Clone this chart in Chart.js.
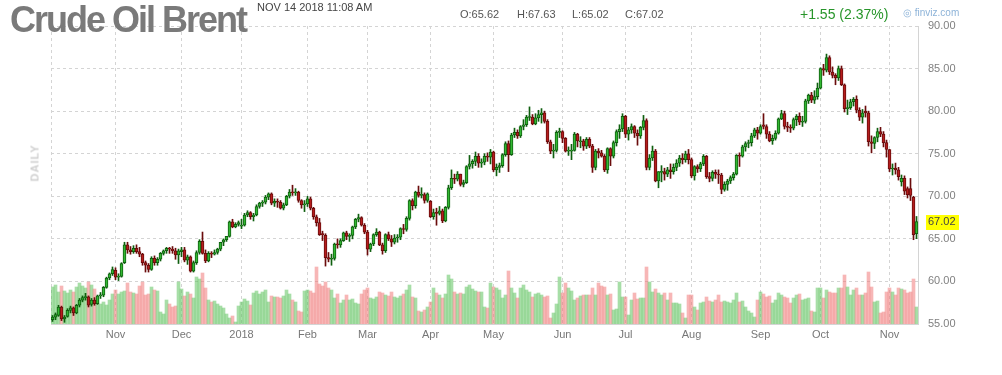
<!DOCTYPE html>
<html>
<head>
<meta charset="utf-8">
<script src="https://cdn.jsdelivr.net/npm/chart.js@4.4.0/dist/chart.umd.min.js"></script>
<style>
  body { margin: 0; background: #fff; font-family: Arial, "Liberation Sans", sans-serif; }
  #wrap { position: relative; width: 1002px; height: 375px; overflow: hidden; }
  canvas { position: absolute; left: 0; top: 0; }
  .txt { position: absolute; white-space: nowrap; }
  #titel { left: 10px; top: 2px; font-size: 36px; line-height: 36px; font-weight: bold; color: #7a7a7a; letter-spacing: -2px; }
  #dato { left: 257px; top: 2px; font-size: 11px; line-height: 11px; color: #444; }
  .ohlc { top: 9px; font-size: 11px; line-height: 11px; color: #555; }
  #aendring { left: 800px; top: 7px; font-size: 14px; line-height: 14px; color: #27952a; }
  #kilde { left: 903px; top: 8px; font-size: 10px; line-height: 10px; color: #8db3d8; }
  #daily { left: 17px; top: 158px; width: 36px; text-align: center; font-size: 11px; line-height: 11px; font-weight: bold; color: #cfcfcf; letter-spacing: 1px; transform: rotate(-90deg); }
</style>
</head>
<body>
<div id="wrap">
  <canvas id="brentGraf" width="1002" height="375"></canvas>
  <div class="txt" id="titel">Crude Oil Brent</div>
  <div class="txt" id="dato">NOV 14 2018 11:08 AM</div>
  <div class="txt ohlc" style="left:460px">O:65.62</div>
  <div class="txt ohlc" style="left:517px">H:67.63</div>
  <div class="txt ohlc" style="left:572px">L:65.02</div>
  <div class="txt ohlc" style="left:625px">C:67.02</div>
  <div class="txt" id="aendring">+1.55 (2.37%)</div>
  <div class="txt" id="kilde">&#9678; finviz.com</div>
  <div class="txt" id="daily">DAILY</div>
</div>
<script>
// Daglige candles, Brent, 3. okt 2017 - 14. nov 2018
var opens = [
  55.5,55.8,56.0,57.0,55.6,55.9,56.6,56.9,56.3,57.2,57.8,58.1,58.2,57.3,57.8,57.4,58.3,58.4,59.3,60.4,60.9,
  61.3,60.5,60.6,62.2,64.3,63.7,63.5,63.9,63.5,63.2,62.2,61.9,61.4,62.7,62.2,62.6,63.3,63.6,63.9,63.8,63.6,63.1,
  63.5,63.7,62.5,62.9,61.2,62.2,63.4,64.7,63.3,62.4,63.3,63.2,63.4,63.8,64.6,64.9,65.3,67.0,66.4,66.7,
  66.5,66.6,67.8,68.1,67.6,67.8,68.8,69.2,69.3,69.9,70.3,69.2,69.4,69.3,68.6,69.0,70.0,70.5,70.4,70.5,69.5,69.0,
  69.1,69.7,68.6,67.6,66.9,65.6,65.4,62.8,62.6,62.7,64.4,64.3,64.8,65.7,65.3,65.4,66.4,67.3,67.5,66.6,
  65.8,63.8,64.4,65.5,65.8,64.3,63.6,65.5,65.0,64.6,65.1,65.2,66.2,66.1,67.4,69.5,68.9,70.5,70.1,70.2,69.5,
  69.4,67.6,68.1,68.0,68.3,67.1,68.7,71.0,72.1,72.0,72.6,71.4,71.6,73.5,73.8,74.1,74.7,73.9,74.0,74.7,74.6,
  75.2,73.1,73.4,73.6,74.9,76.2,74.9,77.2,77.5,77.1,78.2,78.4,79.25,79.3,78.5,79.2,79.6,79.8,78.8,76.4,75.3,75.4,77.5,
  77.6,76.8,75.3,75.3,75.4,77.3,76.4,76.5,75.9,76.7,75.9,73.4,75.3,75.1,74.7,73.1,75.6,74.7,76.3,77.6,77.9,
  79.4,77.3,77.8,78.2,77.4,77.1,78.1,78.9,73.4,74.5,75.3,71.8,72.8,72.9,72.6,73.1,72.9,73.4,73.9,74.5,74.3,75.0,
  74.3,72.4,73.5,73.2,73.8,74.7,72.3,72.1,72.8,72.6,72.5,70.8,71.4,71.8,72.2,72.6,74.8,74.7,75.8,76.2,76.3,77.1,77.8,
  77.4,78.4,78.2,77.3,76.5,76.8,77.4,79.1,79.7,78.2,78.1,78.0,79.0,79.4,78.7,78.8,81.2,81.9,81.3,81.7,
  82.7,85.0,84.8,86.3,84.6,84.2,83.9,85.0,83.1,80.3,80.4,81.1,81.4,80.1,79.3,80.0,79.8,76.4,76.2,76.9,77.6,77.3,76.3,
  75.5,73.2,73.3,73.1,71.7,72.1,70.9,70.9,69.9,65.62
];
var highs = [
  56.0,56.3,57.2,57.1,56.0,56.8,57.1,57.0,57.3,58.0,58.3,58.6,58.3,58.0,58.1,58.4,58.7,59.4,60.5,61.0,61.7,
  61.6,60.9,62.2,64.6,64.6,64.1,64.2,64.3,64.0,63.3,62.4,62.1,62.9,63.0,62.8,63.4,63.7,64.0,64.0,64.1,63.9,63.8,
  64.0,64.0,63.1,63.0,62.4,63.6,64.9,65.8,63.7,63.5,63.5,63.7,63.9,64.6,65.0,65.3,67.1,67.3,66.9,67.1,
  67.3,68.0,68.3,68.2,68.0,69.0,69.3,69.5,70.1,70.4,70.4,69.7,69.7,69.5,69.2,70.1,70.8,71.3,70.9,70.6,69.6,69.5,
  70.0,69.9,68.7,67.8,67.4,65.9,65.6,63.4,63.2,64.5,65.0,65.0,65.8,65.9,65.6,66.5,67.4,67.9,67.6,66.8,
  66.0,64.5,65.6,66.2,65.9,64.5,65.6,65.8,65.4,65.5,65.5,66.3,66.7,67.6,69.6,69.7,70.6,71.2,71.0,70.4,70.4,
  69.5,68.5,68.6,68.8,68.5,68.8,71.3,73.1,72.6,72.9,72.6,71.9,73.6,74.8,74.3,75.2,75.0,74.4,75.0,75.1,75.5,
  75.3,73.8,73.9,75.0,76.4,76.5,77.4,78.0,77.8,78.3,79.0,79.5,80.5,79.6,79.7,80.1,80.3,80.0,79.0,76.6,76.1,77.7,78.0,
  77.7,76.9,75.8,76.1,77.5,77.4,77.0,76.7,76.9,76.9,76.1,75.5,75.6,75.4,74.9,75.7,75.7,76.5,77.8,78.4,79.7,
  79.5,78.1,78.5,78.3,77.8,78.2,79.5,79.1,74.9,75.9,75.5,72.9,73.6,73.3,73.4,73.8,73.8,74.3,74.8,75.0,75.3,75.5,
  74.5,73.6,73.7,74.0,74.9,74.8,72.8,73.0,73.1,73.1,72.7,71.7,72.0,72.4,72.8,74.9,75.1,76.0,76.4,76.6,77.4,78.0,78.1,
  78.4,79.7,78.4,77.6,77.2,77.7,79.2,80.1,80.0,78.7,78.4,79.2,79.6,79.8,79.4,81.4,82.0,82.2,82.4,83.3,
  85.1,85.5,86.7,86.5,85.2,84.4,85.3,85.3,83.2,81.3,81.4,81.6,81.8,80.4,80.2,80.6,80.0,77.1,77.0,78.0,78.1,77.6,76.6,
  75.5,73.8,73.9,73.4,72.5,72.4,71.1,72.1,70.0,67.63
];
var lows = [
  55.3,55.5,55.9,55.4,55.2,55.8,56.3,56.0,56.2,57.0,57.6,57.8,57.0,57.1,57.2,57.3,58.0,58.2,59.2,60.2,60.7,
  60.2,60.1,60.5,62.1,63.3,63.2,63.3,63.3,62.9,61.9,61.1,61.1,61.3,61.9,61.9,62.4,63.1,63.3,63.3,63.3,62.6,62.1,
  62.9,62.3,62.0,61.1,61.1,62.0,63.2,63.2,62.2,62.3,62.8,63.1,63.2,63.6,64.2,64.7,65.2,66.3,66.3,66.5,
  66.2,66.5,67.6,67.3,67.1,67.7,68.6,68.8,69.1,69.6,69.0,68.8,68.7,68.5,68.4,68.9,69.8,70.1,70.1,69.3,68.6,68.2,
  68.8,68.4,67.3,66.5,65.4,64.8,61.8,62.3,61.9,62.5,63.9,64.0,64.7,64.9,64.7,65.0,66.2,67.0,66.5,65.6,
  63.1,63.5,64.2,65.3,64.2,63.2,63.4,64.8,64.1,64.4,64.6,64.9,65.6,65.9,67.2,68.4,68.6,69.9,69.8,69.2,69.3,
  67.5,67.3,66.6,67.8,66.9,67.0,68.5,70.8,71.5,71.8,71.2,71.1,71.5,73.2,73.3,73.6,73.4,73.4,73.7,74.1,73.8,
  72.9,72.4,72.8,73.4,74.7,72.9,74.8,76.9,76.8,76.9,77.8,78.2,78.9,78.4,78.4,78.8,78.6,78.6,76.2,75.0,74.5,75.2,76.9,
  76.3,75.2,74.8,74.3,75.3,75.8,75.7,75.4,75.6,75.7,72.8,73.1,74.5,74.6,72.9,72.7,73.6,74.5,75.9,76.8,77.6,
  76.9,76.6,77.4,76.9,76.0,76.8,77.8,73.1,73.1,74.2,71.7,71.0,71.7,71.9,72.3,72.1,72.6,73.0,73.5,73.8,74.0,73.8,
  72.2,71.9,72.8,72.9,73.6,72.1,71.7,71.8,72.1,71.5,70.3,70.6,70.7,71.5,71.9,72.5,73.5,74.6,75.3,75.7,75.9,76.9,76.7,
  77.3,77.9,76.8,76.4,76.1,76.6,77.3,79.0,77.9,77.6,77.5,77.8,78.3,78.4,78.2,78.6,80.9,81.0,80.9,81.4,
  82.6,84.2,84.6,84.3,83.9,83.1,83.6,83.0,79.9,79.6,80.2,80.6,79.8,78.9,78.6,79.3,75.9,75.1,75.6,76.4,77.0,75.8,74.6,
  72.9,72.5,72.6,71.9,71.2,70.2,69.8,69.5,64.9,65.02
];
var closes = [
  55.8,56.1,57.0,55.6,55.8,56.6,56.9,56.3,57.2,57.8,58.1,58.2,57.2,57.8,57.4,58.3,58.4,59.3,60.4,60.9,61.4,
  60.5,60.6,62.1,64.3,63.7,63.5,63.9,63.5,63.2,62.2,61.9,61.4,62.7,62.2,62.6,63.3,63.6,63.9,63.8,63.6,63.1,63.6,
  63.7,62.5,62.9,61.2,62.2,63.4,64.7,63.3,62.4,63.3,63.2,63.4,63.8,64.6,64.9,65.3,67.0,66.4,66.7,66.9,
  66.6,67.8,68.1,67.6,67.8,68.8,69.2,69.3,69.9,70.3,69.2,69.4,69.3,68.6,69.0,70.0,70.5,70.4,70.5,69.5,69.0,69.1,
  69.7,68.6,67.6,66.9,65.5,65.5,62.8,62.6,62.7,64.4,64.3,64.8,65.7,65.3,65.4,66.4,67.3,67.5,66.6,65.8,
  63.8,64.4,65.5,65.8,64.3,63.6,65.5,65.0,64.6,65.1,65.2,66.2,66.1,67.4,69.5,68.9,70.5,70.1,70.2,69.5,70.3,
  67.6,68.1,68.0,68.3,67.1,68.7,71.0,72.1,72.0,72.6,71.4,71.6,73.5,73.8,74.1,74.7,73.9,74.0,74.7,74.6,75.2,
  73.1,73.4,73.6,74.9,76.2,74.9,77.2,77.5,77.1,78.2,78.4,79.3,79.35,78.5,79.2,79.6,79.8,78.8,76.4,75.3,75.4,77.5,77.6,
  76.8,75.3,75.4,75.4,77.3,76.5,76.5,75.9,76.7,75.9,73.4,75.3,75.1,74.7,73.1,75.6,74.7,76.3,77.6,77.9,79.4,
  77.3,77.8,78.2,77.4,77.1,78.1,78.9,73.4,74.5,75.3,71.8,72.9,72.9,72.6,73.1,72.9,73.4,73.9,74.5,74.3,75.0,74.3,
  72.4,73.5,73.2,73.8,74.7,72.3,72.1,72.8,72.6,72.5,70.8,71.4,71.8,72.2,72.6,74.8,74.7,75.8,76.2,76.3,77.1,77.8,77.4,
  78.2,78.2,77.3,76.5,76.8,77.4,79.1,79.7,78.2,78.1,78.0,79.0,79.4,78.7,78.8,81.2,81.9,81.3,81.7,82.7,
  85.0,84.8,86.3,84.6,84.2,83.9,85.0,83.1,80.3,80.4,81.1,81.4,80.1,79.3,79.8,79.8,76.4,76.2,76.9,77.6,77.3,76.3,75.5,
  73.2,73.3,73.1,72.3,72.1,70.6,70.2,70.1,65.5,67.02
];
// Volumen (relativ, aflæst som søjlehøjde)
var volumes = [
  37,39,32,38,33,31,34,32,37,41, 38,36,42,39,35,25,20,22,19,24,
  30,34,30,32,33,41,32,31,30,38, 42,29,30,37,34,33,12,10,24,20,
  17,18,42,35,28,32,30,26,47,45, 51,36,24,22,23,20,18,16,10,6,
  8,2,18,22,25,23,19,31,33,30, 32,34,22,28,27,27,26,28,34,30,
  24,22,13,12,33,34,33,31,57,40, 38,42,36,34,26,30,21,24,29,24,
  25,21,20,30,34,36,26,25,27,32, 31,29,28,32,27,26,28,30,34,39,
  27,26,13,12,14,17,22,36,31,29, 26,30,49,45,32,30,31,30,37,39,
  35,33,32,32,17,16,41,37,36,34, 26,29,53,36,31,26,36,39,34,32,
  27,30,31,29,27,28,6,11,20,47, 31,41,36,33,24,26,28,29,29,29,
  36,29,41,38,37,29,30,14,15,42, 27,27,9,24,31,25,26,26,57,42,
  32,35,31,29,31,24,31,21,21,20, 11,6,29,29,17,14,21,22,27,23,
  22,24,29,22,23,22,21,24,31,22, 23,17,13,11,7,24,32,30,27,28,
  21,24,31,29,27,26,21,26,29,30, 24,25,26,13,12,36,36,26,34,32,
  31,31,36,36,49,37,29,34,36,29, 29,31,52,37,22,23,11,12,32,36,
  32,29,36,35,34,31,32,45,17
];
// Månedsstart (indeks i candles) og x-akse labels
var monthIdx = [21, 43, 63, 85, 105, 126, 147, 170, 191, 213, 236, 256, 279];
var monthLabels = ["Nov", "Dec", "2018", "Feb", "Mar", "Apr", "May", "Jun", "Jul", "Aug", "Sep", "Oct", "Nov"];
var lastPrice = closes[closes.length - 1];

var idx = closes.map((_, i) => i);
var up = idx.map((i) => closes[i] >= opens[i]);

var wickData = idx.map((i) => ({ x: i, y: [lows[i], highs[i]] }));
var bodyData = idx.map((i) => ({
  x: i,
  y: [Math.min(opens[i], closes[i]), Math.max(opens[i], closes[i])],
}));
var volData = idx.map((i) => ({ x: i, y: volumes[i] }));

var gridFarve = "#d4d4d4";

// Gul pris-label ved højre akse
var prisLabel = {
  id: "prisLabel",
  afterDraw(chart) {
    var c = chart.ctx;
    var y = chart.scales.y.getPixelForValue(lastPrice);
    c.save();
    c.fillStyle = "#ffff00";
    c.fillRect(926, Math.round(y) - 7, 33, 15);
    c.fillStyle = "#444";
    c.font = "11px Arial, 'Liberation Sans'";
    c.textBaseline = "middle";
    c.fillText(lastPrice.toFixed(2), 928, y + 0.5);
    c.restore();
  },
};

var ctx = document.getElementById("brentGraf").getContext("2d");
var brentGraf = new Chart(ctx, {
  type: "bar",
  data: {
    datasets: [
      {
        label: "Body",
        data: bodyData,
        backgroundColor: up.map((u) => (u ? "#33b833" : "#b51d1d")),
        borderColor: up.map((u) => (u ? "#0f5f0f" : "#6a0c0c")),
        borderWidth: 1,
        borderSkipped: false,
        barThickness: 3,
        minBarLength: 1,
        grouped: false,
        order: 1,
        yAxisID: "y",
      },
      {
        label: "Wick",
        data: wickData,
        backgroundColor: up.map((u) => (u ? "#0f5f0f" : "#6a0c0c")),
        barThickness: 1,
        grouped: false,
        order: 2,
        yAxisID: "y",
      },
      {
        label: "Volume",
        data: volData,
        backgroundColor: up.map((u) => (u ? "rgba(80,190,80,0.5)" : "rgba(240,110,110,0.5)")),
        barThickness: 3,
        grouped: false,
        order: 3,
        yAxisID: "yVol",
      },
    ],
  },
  options: {
    responsive: false,
    animation: false,
    layout: { padding: { left: 51, top: 26, right: 0, bottom: 0 } },
    plugins: { legend: { display: false }, tooltip: { enabled: false } },
    scales: {
      x: {
        type: "linear",
        offset: false,
        min: -0.5,
        max: 288.5,
        afterBuildTicks(scale) {
          scale.ticks = [-0.5].concat(monthIdx, [288.5]).map((v) => ({ value: v }));
        },
        afterFit(scale) {
          scale.height = 51;
        },
        ticks: {
          autoSkip: false,
          maxRotation: 0,
          padding: 4,
          color: "#777",
          font: { family: "Arial, 'Liberation Sans'", size: 11 },
          callback(v) {
            var k = monthIdx.indexOf(v);
            return k >= 0 ? monthLabels[k] : "";
          },
        },
        grid: { color: gridFarve, drawTicks: false, offset: false },
        border: { color: gridFarve, dash: [3, 3] },
      },
      y: {
        position: "right",
        min: 55,
        max: 90,
        afterFit(scale) {
          scale.width = 84;
        },
        ticks: {
          stepSize: 5,
          padding: 10,
          color: "#808080",
          font: { family: "Arial, 'Liberation Sans'", size: 11 },
          callback(v) {
            return v.toFixed(2);
          },
        },
        grid: { color: gridFarve, drawTicks: false },
        border: { color: gridFarve, dash: [3, 3] },
      },
      yVol: { display: false, min: 0, max: 298 },
    },
  },
  plugins: [prisLabel],
});
</script>
</body>
</html>
